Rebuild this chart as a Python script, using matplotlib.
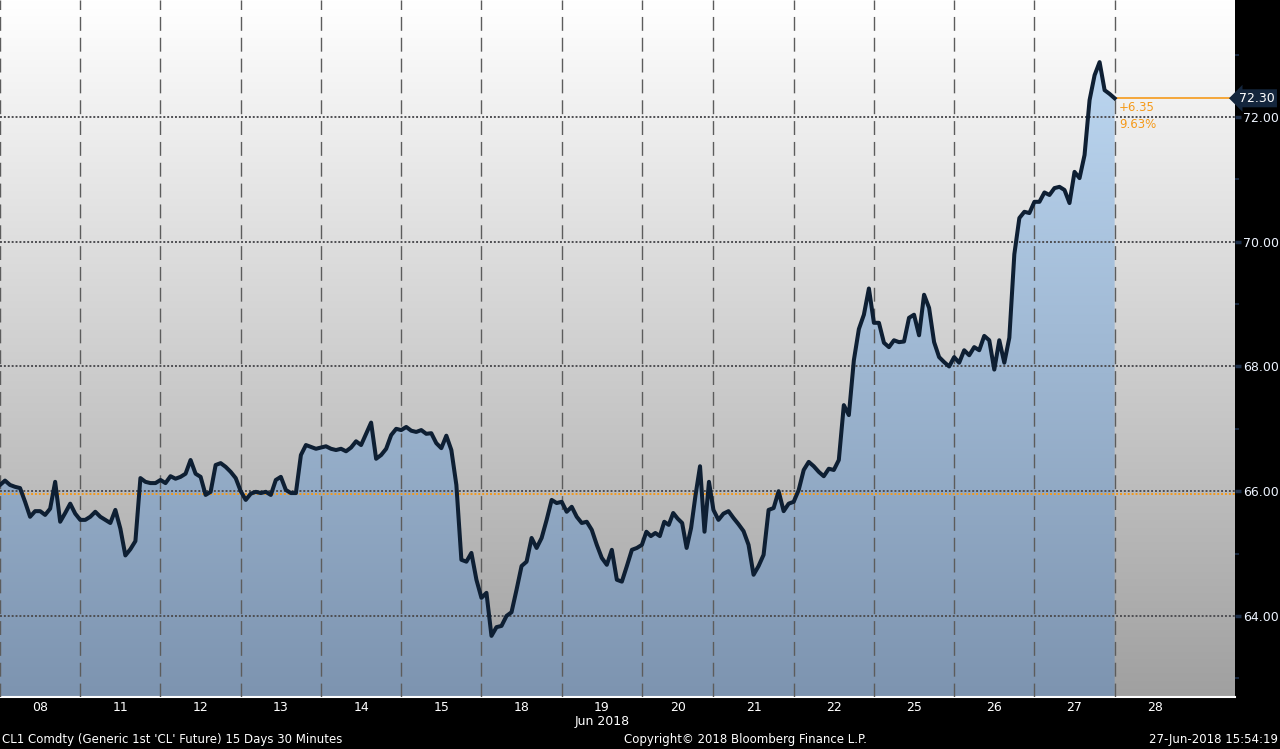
import numpy as np
import matplotlib
matplotlib.use('Agg')
import matplotlib.pyplot as plt
from matplotlib.colors import LinearSegmentedColormap
from matplotlib.patches import Polygon
from matplotlib import transforms

# trading sessions and their length in 30-minute bars
days = ['08', '11', '12', '13', '14', '15', '18', '19', '20', '21', '22', '25', '26', '27']
bars_per_day = [46, 46, 46, 46, 46, 46, 46, 46, 41, 46, 46, 46, 46, 46]
future_day = '28'

# CL1 prices, 16 per session
p08 = [66.10, 66.17, 66.10, 66.07, 66.05, 65.83, 65.59, 65.68, 65.68, 65.62, 65.72, 66.15, 65.51, 65.65, 65.80, 65.64]
p11 = [65.54, 65.54, 65.59, 65.67, 65.59, 65.54, 65.49, 65.70, 65.40, 64.97, 65.07, 65.20, 66.21, 66.15, 66.13, 66.13]
p12 = [66.18, 66.13, 66.24, 66.20, 66.23, 66.28, 66.50, 66.28, 66.23, 65.94, 65.99, 66.42, 66.45, 66.39, 66.31, 66.21]
p13 = [66.00, 65.86, 65.96, 65.99, 65.97, 65.99, 65.94, 66.18, 66.23, 66.02, 65.97, 65.97, 66.58, 66.74, 66.71, 66.68]
p14 = [66.70, 66.72, 66.68, 66.66, 66.68, 66.64, 66.70, 66.80, 66.74, 66.92, 67.10, 66.52, 66.58, 66.68, 66.90, 67.00]
p15 = [66.98, 67.03, 66.97, 66.95, 66.98, 66.92, 66.93, 66.77, 66.69, 66.89, 66.66, 66.10, 64.90, 64.87, 65.01, 64.58]
p18 = [64.29, 64.37, 63.68, 63.82, 63.84, 64.00, 64.06, 64.42, 64.80, 64.87, 65.25, 65.09, 65.25, 65.54, 65.86, 65.81]
p19 = [65.83, 65.67, 65.75, 65.59, 65.49, 65.51, 65.38, 65.14, 64.93, 64.82, 65.06, 64.58, 64.55, 64.80, 65.06, 65.09]
p20 = [65.14, 65.35, 65.28, 65.33, 65.28, 65.51, 65.46, 65.65, 65.56, 65.49, 65.09, 65.41, 65.94, 66.40, 65.35, 66.15]
p21 = [65.70, 65.54, 65.64, 65.68, 65.57, 65.47, 65.36, 65.14, 64.66, 64.80, 64.98, 65.70, 65.73, 66.00, 65.68, 65.80]
p22 = [65.83, 66.02, 66.34, 66.47, 66.40, 66.31, 66.24, 66.36, 66.34, 66.50, 67.38, 67.22, 68.10, 68.60, 68.83, 69.25]
p25 = [68.70, 68.70, 68.38, 68.31, 68.42, 68.39, 68.40, 68.78, 68.83, 68.50, 69.15, 68.94, 68.39, 68.15, 68.07, 68.00]
p26 = [68.15, 68.06, 68.26, 68.18, 68.31, 68.26, 68.49, 68.42, 67.95, 68.42, 68.06, 68.46, 69.80, 70.38, 70.48, 70.46]
p27 = [70.64, 70.64, 70.79, 70.75, 70.86, 70.88, 70.83, 70.62, 71.12, 71.02, 71.39, 72.27, 72.67, 72.88, 72.43, 72.37]
prices = [p08, p11, p12, p13, p14, p15, p18, p19, p20, p21, p22, p25, p26, p27]

last_price = 72.30
open_price = 65.95
yticks = [64, 66, 68, 70, 72]

# build time axis (in bars)
starts = np.concatenate([[0], np.cumsum(bars_per_day)[:-1]])
x_end = float(np.sum(bars_per_day))
x = np.concatenate([np.linspace(s, s + n, len(p), endpoint=False)
                    for s, n, p in zip(starts, bars_per_day, prices)] + [[x_end]])
y = np.concatenate(prices + [[last_price]])

xmax = x_end + 46 * 1.5
ymin, ymax = 62.70, 73.876

plt.rcParams['font.family'] = ['DejaVu Sans']
fig = plt.figure(figsize=(12.8, 7.49), dpi=100, facecolor='black')
ax = fig.add_axes([0, 52 / 749, 1235 / 1280, 697 / 749])
ax.set_xlim(0, xmax)
ax.set_ylim(ymin, ymax)

# gray background gradient
bg = LinearSegmentedColormap.from_list('bg', ['#a0a0a0', '#ffffff'])
grad = np.linspace(0, 1, 256).reshape(-1, 1)
ax.imshow(grad, cmap=bg, origin='lower', aspect='auto',
          extent=[0, xmax, ymin, ymax], zorder=0)

# blue gradient under the price line
fillcm = LinearSegmentedColormap.from_list('fill', ['#7d94b0', '#c2ddf7'])
im = ax.imshow(grad, cmap=fillcm, origin='lower', aspect='auto',
               extent=[0, xmax, ymin, ymax], zorder=1)
verts = np.column_stack([np.r_[x, x_end, x[0]], np.r_[y, ymin, ymin]])
clip = Polygon(verts, closed=True, transform=ax.transData)
im.set_clip_path(clip)

# grid
for b in list(starts) + [x_end]:
    ax.axvline(b, color='#5c5c5c', lw=1.0, ls=(0, (10, 5)), zorder=3)
for v in yticks:
    ax.axhline(v, color='#4e4e52', lw=1.4, ls=(0, (1, 1)), zorder=3)
ax.axhline(open_price, color='#f59a1b', lw=1.4, ls=(0, (1, 1)), zorder=3)
ax.hlines(last_price, x_end, xmax, color='#f59a1b', lw=1.2, zorder=3)

# price line
ax.plot(x, y, color='#0e1f33', lw=2.9, solid_joinstyle='round', zorder=5)

change = last_price - open_price
pct = change / open_price * 100
ax.annotate(f'+{change:.2f}', xy=(x_end, last_price), xytext=(3, -2),
            textcoords='offset points', va='top', ha='left',
            color='#f59a1b', fontsize=8.5, zorder=6)
ax.annotate(f'{pct:.2f}%', xy=(x_end, last_price), xytext=(3, -14),
            textcoords='offset points', va='top', ha='left',
            color='#f59a1b', fontsize=8.5, zorder=6)

# axes styling
for s in ['top', 'left', 'right']:
    ax.spines[s].set_visible(False)
ax.spines['bottom'].set_color('white')
ax.spines['bottom'].set_linewidth(1.5)

ax.yaxis.tick_right()
ax.set_yticks(yticks)
ax.set_yticklabels([f'{v:.2f}' for v in yticks])
ax.set_yticks(np.arange(63, 74, 2), minor=True)
ax.tick_params(axis='y', which='major', colors='#1c2e48', labelcolor='#eef4ff',
               length=4, width=2.5, direction='out', pad=1.5, labelsize=9)
ax.tick_params(axis='y', which='minor', colors='#1c2e48', length=3, width=1.2)

centers = list(starts + np.array(bars_per_day) / 2) + [x_end + 23]
ax.set_xticks(centers)
ax.set_xticklabels(days + [future_day])
ax.tick_params(axis='x', length=0, labelcolor='white', labelsize=9, pad=3)

ax.text(1.003, last_price, f'{last_price:.2f}', transform=transforms.blended_transform_factory(ax.transAxes, ax.transData),
        ha='left', va='center', color='white', fontsize=9,
        bbox=dict(boxstyle='larrow,pad=0.2', fc='#14263d', ec='none'), clip_on=False)

# footer
blend = transforms.blended_transform_factory(ax.transData, fig.transFigure)
ax.text(centers[days.index('19')], 1 - 722 / 749, 'Jun 2018', transform=blend,
        ha='center', va='center', color='white', fontsize=9)
fig.text(2 / 1280, 1 - 740 / 749, "CL1 Comdty (Generic 1st 'CL' Future) 15 Days 30 Minutes",
         ha='left', va='center', color='white', fontsize=8.5)
fig.text(745 / 1280, 1 - 740 / 749, 'Copyright\u00a9 2018 Bloomberg Finance L.P.',
         ha='center', va='center', color='white', fontsize=8.5)
fig.text(1278 / 1280, 1 - 740 / 749, '27-Jun-2018 15:54:19',
         ha='right', va='center', color='white', fontsize=8.5)

fig.savefig('out.png', dpi=100, facecolor='black')
